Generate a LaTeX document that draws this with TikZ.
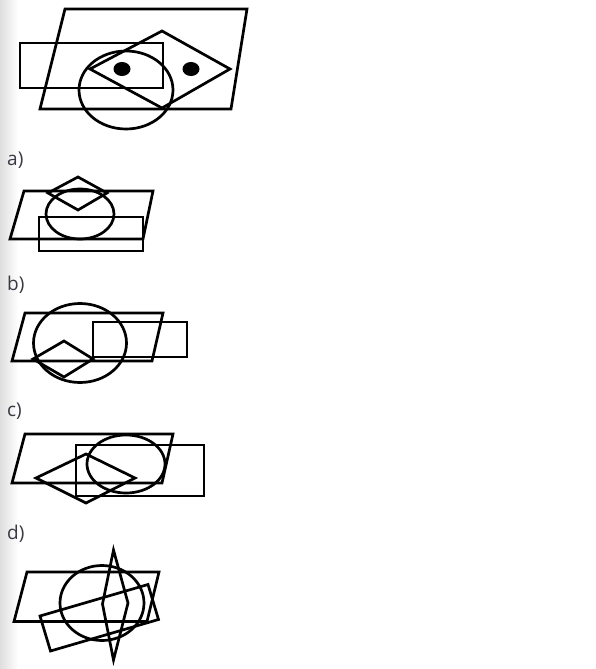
\documentclass[tikz,border=0pt]{standalone}
\usepackage{fontspec}
\setmainfont{Open Sans}
\definecolor{lbl}{HTML}{383A44}
\tikzset{
  fig/.style={draw=black, line width=2.7pt, line join=miter},
  lab/.style={anchor=base west, inner sep=0pt, text=lbl, font=\fontsize{19}{22}\selectfont}
}
\begin{document}
\begin{tikzpicture}[x=1pt,y=-1pt]
\useasboundingbox (0,0) rectangle (595,669);
\fill[white] (0,0) rectangle (595,669);
\shade[left color=black!13, right color=white] (0,0) rectangle (18,669);
% reference figure
\draw[fig] (65,9) -- (247,9) -- (231,109) -- (40,109) -- cycle;
\draw[fig] (20,43) rectangle (163,88);
\draw[fig] (126,90) ellipse [x radius=47, y radius=39];
\draw[fig] (90,69) -- (162,31) -- (230,69) -- (162,108) -- cycle;
\fill (122,69) ellipse [x radius=8.5, y radius=7];
\fill (191,69) ellipse [x radius=8.5, y radius=7];
% a)
\node[lab] (la) at (7,165) {a)};
\draw[fig] (24,191) -- (153,191) -- (143,239) -- (10,239) -- cycle;
\draw[fig] (39,217) rectangle (143,251);
\draw[fig] (80,214) ellipse [x radius=34, y radius=25];
\draw[fig] (48,193) -- (78,177) -- (107,193) -- (78,210) -- cycle;
% b)
\node[lab] (lb) at (7,290) {b)};
\draw[fig] (25,313) -- (163,313) -- (152,361) -- (12,361) -- cycle;
\draw[fig] (93,322) rectangle (187,357);
\draw[fig] (80,343) ellipse [x radius=46.5, y radius=39.5];
\draw[fig] (33,359) -- (64,341) -- (93,359) -- (64,377) -- cycle;
% c)
\node[lab] (lc) at (7,416) {c)};
\draw[fig] (25,434) -- (173,434) -- (162,483) -- (12,483) -- cycle;
\draw[fig] (76,445) rectangle (204,496);
\draw[fig] (126,464) ellipse [x radius=39, y radius=29];
\draw[fig] (36,478) -- (86,454) -- (135,478) -- (86,503) -- cycle;
% d)
\node[lab] (ld) at (7,539) {d)};
\draw[fig] (27,572) -- (159,572) -- (147,621.5) -- (14,621.5) -- cycle;
\draw[fig] (102,603) ellipse [x radius=42, y radius=37.5];
\draw[fig] (40,616) -- (148,584.5) -- (158.5,619.5) -- (50.5,651) -- cycle;
\draw[fig] (113.5,550) -- (128,603) -- (113.5,660) -- (102.5,604) -- cycle;
\end{tikzpicture}
\end{document}
